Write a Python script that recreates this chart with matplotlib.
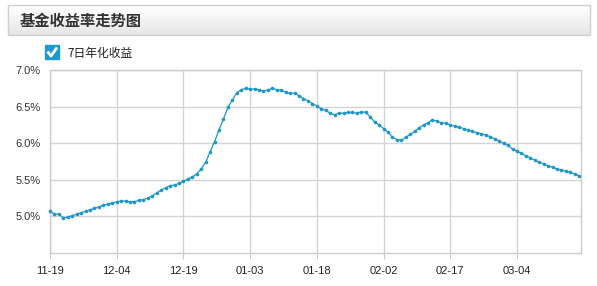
import numpy as np
import pandas as pd
import matplotlib
matplotlib.use("Agg")
import matplotlib.pyplot as plt
from matplotlib.patches import Rectangle

plt.rcParams['font.family'] = ['Liberation Sans', 'Noto Sans CJK SC', 'DejaVu Sans']

# 数据
start_date = "2012-11-19"
yield_7d = [
    5.07, 5.03, 5.03, 4.98, 4.99, 5.01, 5.03, 5.05, 5.07, 5.09,
    5.11, 5.13, 5.15, 5.17, 5.18, 5.20, 5.21, 5.21, 5.20, 5.20,
    5.22, 5.23, 5.25, 5.28, 5.32, 5.36, 5.39, 5.42, 5.43, 5.45,
    5.48, 5.51, 5.54, 5.58, 5.65, 5.74, 5.88, 6.02, 6.18, 6.33,
    6.49, 6.59, 6.69, 6.73, 6.75, 6.74, 6.74, 6.73, 6.71, 6.73,
    6.75, 6.73, 6.72, 6.70, 6.68, 6.68, 6.65, 6.61, 6.58, 6.54,
    6.51, 6.47, 6.45, 6.41, 6.39, 6.41, 6.41, 6.42, 6.42, 6.41,
    6.43, 6.42, 6.36, 6.29, 6.25, 6.20, 6.15, 6.08, 6.05, 6.04,
    6.08, 6.12, 6.16, 6.21, 6.25, 6.28, 6.32, 6.30, 6.28, 6.27,
    6.25, 6.23, 6.22, 6.20, 6.18, 6.16, 6.14, 6.13, 6.11, 6.09,
    6.06, 6.03, 6.00, 5.97, 5.92, 5.89, 5.86, 5.83, 5.80, 5.77,
    5.74, 5.72, 5.69, 5.67, 5.65, 5.63, 5.62, 5.60, 5.58, 5.55,
]
dates = pd.date_range(start_date, periods=len(yield_7d), freq="D")
y_ticks = [5.0, 5.5, 6.0, 6.5, 7.0]
tick_step = 15

title_text = "基金收益率走势图"
legend_text = "7日年化收益"
line_color = "#1f97c6"

W, H = 597, 286
fig = plt.figure(figsize=(W / 100, H / 100), dpi=100)
fig.patch.set_facecolor("white")

# 背景层 (像素坐标)
bg = fig.add_axes([0, 0, 1, 1])
bg.set_xlim(0, W)
bg.set_ylim(H, 0)
bg.axis("off")

# 标题栏渐变
grad = np.linspace(1.0, 0.9, 50).reshape(-1, 1)
bg.imshow(grad, cmap="gray", vmin=0, vmax=1, extent=(8, 590, 35, 5),
          aspect="auto", zorder=0)
bg.add_patch(Rectangle((8, 5), 582, 30, fill=False, edgecolor="#cfcfcf", lw=1))
bg.text(20, 20.5, title_text, fontsize=11, fontweight="bold", color="#333333",
        va="center", ha="left", family=['Noto Sans CJK SC', 'DejaVu Sans'])

# 图例复选框
bg.add_patch(Rectangle((45, 45), 14, 14, facecolor="#1e9ad0", edgecolor="#1e9ad0"))
bg.plot([47.5, 51, 57], [51.5, 56, 47.5], color="white", lw=2.0, solid_capstyle="butt")
bg.text(67, 53, legend_text, fontsize=8.5, color="#222222", va="center", ha="left",
        family=['Noto Sans CJK SC', 'DejaVu Sans'])

# 主图
ax = fig.add_axes([50 / W, 1 - 253 / H, 531 / W, 183 / H])
x = np.arange(len(yield_7d))
ax.plot(x, yield_7d, color=line_color, lw=0.9, marker="o", markersize=2.6,
        markeredgewidth=0, clip_on=False, zorder=3)

xt = x[::tick_step]
ax.set_xticks(xt)
ax.set_xticklabels([d.strftime("%m-%d") for d in dates[::tick_step]])
ax.set_xlim(0, 119.4)
ax.set_ylim(4.5, 7.0)
ax.set_yticks(y_ticks)
ax.set_yticklabels([f"{v:.1f}%" for v in y_ticks])

ax.grid(True, color="#d4d4d4", lw=1)
ax.set_axisbelow(True)
for s in ax.spines.values():
    s.set_color("#cccccc")
    s.set_linewidth(1)
ax.tick_params(axis="x", length=4, color="#cccccc", labelsize=8, labelcolor="#222222", pad=5)
ax.tick_params(axis="y", length=0, labelsize=8, labelcolor="#333333", pad=7)

fig.savefig("out.png", dpi=100)
